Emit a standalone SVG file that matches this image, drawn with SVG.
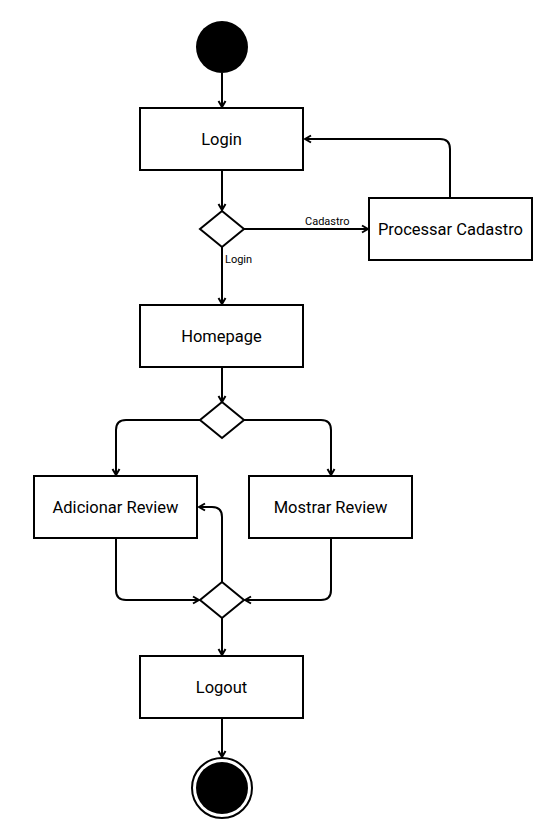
<svg xmlns="http://www.w3.org/2000/svg" width="539" height="823" viewBox="0 0 539 823">
<style>
.box{fill:#fff;stroke:#000;stroke-width:2}
.dia{fill:#fff;stroke:#000;stroke-width:2}
.lbl{font-family:Roboto,"Liberation Sans",sans-serif;font-size:16.5px;fill:#000;text-anchor:middle;dominant-baseline:central}
.sm{font-family:Roboto,"Liberation Sans",sans-serif;font-size:11px;fill:#000}
.edge{fill:none;stroke:#000;stroke-width:2;marker-end:url(#arr)}
</style>
<defs>
<marker id="arr" markerUnits="userSpaceOnUse" viewBox="0 0 10 10" refX="9" refY="5" markerWidth="10" markerHeight="10" orient="auto">
<path d="M3,1.5 L9,5 L3,8.5" fill="none" stroke="#000" stroke-width="2"/>
</marker>
</defs>
<g id="connectors">
<path class="edge" d="M222,73 L222,107"/>
<path class="edge" d="M222,170 L222,210"/>
<path class="edge" d="M244,229 L368,229"/>
<path class="edge" d="M450,198 L450,149 Q450,139 440,139 L305,139"/>
<path class="edge" d="M222,247 L222,304"/>
<path class="edge" d="M222,367 L222,402"/>
<path class="edge" d="M200,420 L126,420 Q116,420 116,430 L116,475"/>
<path class="edge" d="M244,420 L321,420 Q331,420 331,430 L331,475"/>
<path class="edge" d="M116,538 L116,590 Q116,600 126,600 L199,600"/>
<path class="edge" d="M331,538 L331,590 Q331,600 321,600 L245,600"/>
<path class="edge" d="M222,582 L222,517 Q222,507 212,507 L199,507"/>
<path class="edge" d="M222,618 L222,655"/>
<path class="edge" d="M222,718 L222,757"/>
<text class="sm" x="305" y="225">Cadastro</text>
<text class="sm" x="225" y="263">Login</text>
</g>
<g id="start"><circle cx="222" cy="47" r="26" fill="#000"/></g>
<g id="login"><rect class="box" x="140" y="108" width="163" height="62"/><text class="lbl" x="221.5" y="139">Login</text></g>
<g id="decision1"><path class="dia" d="M222,211 L244,229 L222,247 L200,229 Z"/></g>
<g id="processar"><rect class="box" x="369" y="198" width="163" height="62"/><text class="lbl" x="450.5" y="229">Processar Cadastro</text></g>
<g id="homepage"><rect class="box" x="140" y="305" width="163" height="62"/><text class="lbl" x="221.5" y="336">Homepage</text></g>
<g id="decision2"><path class="dia" d="M222,402 L244,420 L222,438 L200,420 Z"/></g>
<g id="adicionar"><rect class="box" x="34" y="476" width="163" height="62"/><text class="lbl" x="115.5" y="507">Adicionar Review</text></g>
<g id="mostrar"><rect class="box" x="249" y="476" width="163" height="62"/><text class="lbl" x="330.5" y="507">Mostrar Review</text></g>
<g id="decision3"><path class="dia" d="M222,582 L244,600 L222,618 L200,600 Z"/></g>
<g id="logout"><rect class="box" x="140" y="656" width="163" height="62"/><text class="lbl" x="221.5" y="687">Logout</text></g>
<g id="end"><circle cx="222" cy="788" r="30" fill="#fff" stroke="#000" stroke-width="2"/><circle cx="222" cy="788" r="26" fill="#000"/></g>
</svg>
